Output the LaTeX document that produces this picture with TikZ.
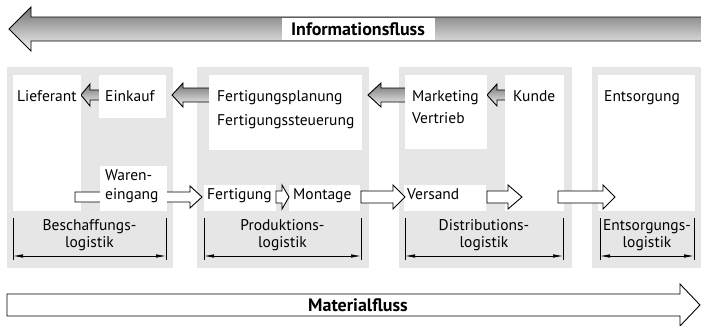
\documentclass[tikz,border=0pt]{standalone}
\usepackage{fontspec}
\setmainfont{PT Sans}
\usetikzlibrary{arrows.meta}
\definecolor{panelgray}{HTML}{E6E6E6}
% block arrow: style, open end x, head back x, tip x, mid y, half shaft, half head
\newcommand{\flowarrow}[7]{%
  \draw[#1] (#2,{#5-#6}) -- (#3,{#5-#6}) -- (#3,{#5-#7}) -- (#4,#5)
    -- (#3,{#5+#7}) -- (#3,{#5+#6}) -- (#2,{#5+#6}) -- cycle;}

\begin{document}
\begin{tikzpicture}[x=1pt, y=-1pt, font=\fontsize{15.5}{18}\selectfont,
  info/.style={draw=black, line width=0.9pt, top color=black!55, bottom color=black!4},
  material/.style={draw=black, line width=0.9pt, fill=white},
  txt/.style={anchor=base west, inner sep=0pt},
  bigtxt/.style={fill=white, inner sep=0pt, font=\bfseries\fontsize{18}{20}\selectfont},
  dimline/.style={{Latex[length=10pt,width=3.5pt]}-{Latex[length=10pt,width=3.5pt]}, line width=0.7pt}]
  \useasboundingbox (0,0) rectangle (701,325);
  % Panels
  \foreach \xa/\xb in {7/173,197/369,399/572,592/710}
    \fill[panelgray] (\xa,67) rectangle (\xb,268);
  % Informationsfluss
  \flowarrow{info}{712}{31}{9}{29}{12}{22}
  \node[bigtxt, minimum width=153, minimum height=22] (infofluss) at (358,29) {Informationsfluss};
  \flowarrow{info}{104}{90}{81}{95}{5}{11}
  \flowarrow{info}{215}{183}{172}{95}{7}{12}
  \flowarrow{info}{410}{381}{368}{95}{7}{12}
  \flowarrow{info}{510}{497}{487}{95}{5}{11}
  % White boxes
  \fill[white] (13,75) rectangle (81,211);
  \fill[white] (99,75) rectangle (166,118);
  \fill[white] (209,75) rectangle (362,150);
  \fill[white] (405,75) rectangle (487,149);
  \fill[white] (505,75) rectangle (564,211);
  \fill[white] (598,75) rectangle (695,211);
  \fill[white] (204,185) rectangle (276,211);
  \fill[white] (289,185) rectangle (360,211);
  \fill[white] (404,185) rectangle (486,211);
  % Material arrows
  \flowarrow{material}{75}{190}{202}{197}{5}{11}
  \flowarrow{material}{276}{282}{289}{197}{6}{12}
  \flowarrow{material}{361}{393}{405}{197}{6}{12}
  \flowarrow{material}{487}{508}{522}{197}{6}{12}
  \flowarrow{material}{558}{603}{615}{197}{6}{12}
  \fill[white] (100,166) rectangle (167,211);
  % Texts
  \node[txt] (lieferant) at (17,101) {Lieferant};
  \node[txt] (einkauf) at (105,101) {Einkauf};
  \node[txt] (planung) at (217,101) {Fertigungsplanung};
  \node[txt] (steuerung) at (217,125) {Fertigungssteuerung};
  \node[txt] (marketing) at (412,101) {Marketing};
  \node[txt] (vertrieb) at (412,123) {Vertrieb};
  \node[txt] (kunde) at (513,101) {Kunde};
  \node[txt] (entsorgung) at (604,101) {Entsorgung};
  \node[txt] (waren) at (105,180) {Waren-};
  \node[txt] (eingang) at (105,199) {eingang};
  \node[txt] (fertigung) at (207,199) {Fertigung};
  \node[txt] (montage) at (293,199) {Montage};
  \node[txt] (versand) at (407,199) {Versand};
  % Logistik ranges
  \foreach \xa/\xb/\name/\upper in {13/166/besch/Beschaffungs,204/361/prod/Produktions,405/563/dist/Distributions,600/694/ents/Entsorgungs}{
    \coordinate (\name-l) at (\xa,256);
    \coordinate (\name-r) at (\xb,256);
    \draw[line width=0.7pt] (\xa,218) -- (\xa,260) (\xb,218) -- (\xb,260);
    \draw[dimline] (\name-l) -- (\name-r);
    \node[anchor=base, inner sep=0pt] (\name-a) at ({(\xa+\xb)/2},230) {\upper-};
    \node[anchor=base, inner sep=0pt] (\name-b) at ({(\xa+\xb)/2},247) {logistik};
  }
  % Materialfluss
  \flowarrow{material}{7}{680}{700}{305}{11}{21}
  \node[bigtxt, minimum height=20] (materialfluss) at (358,305) {Materialfluss};
\end{tikzpicture}
\end{document}
